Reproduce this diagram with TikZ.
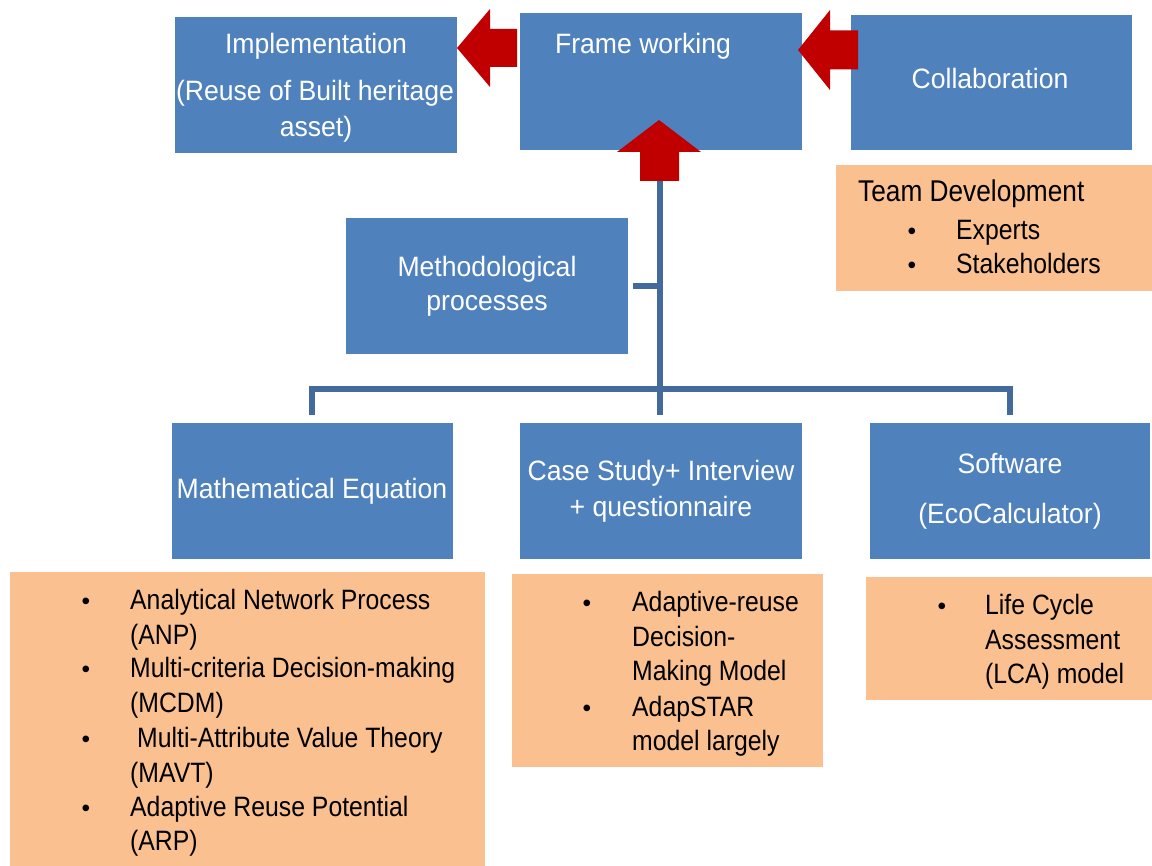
\documentclass[tikz,border=0pt]{standalone}
\usepackage{fontspec}
\setmainfont{Liberation Sans}
\newfontfamily\bluefont[FakeStretch=0.95]{Liberation Sans}
\newfontfamily\orangefont[FakeStretch=0.885]{Liberation Sans}
\newfontfamily\teamfont[FakeStretch=0.875]{Liberation Sans}
\usetikzlibrary{calc}
\definecolor{boxblue}{RGB}{79,129,189}
\definecolor{boxorange}{RGB}{250,192,144}
\definecolor{arrowred}{RGB}{192,0,0}
\definecolor{linkblue}{RGB}{66,106,156}
\tikzset{
  bluebox/.style={fill=boxblue, draw=none, inner sep=0pt, outer sep=0pt},
  orangebox/.style={fill=boxorange, draw=none, inner sep=0pt, outer sep=0pt},
  wtext/.style={text=white, font=\bluefont\fontsize{28}{30}\selectfont, inner sep=0pt, anchor=mid},
  btext/.style={text=black, font=\orangefont\fontsize{28}{30}\selectfont, inner sep=0pt, anchor=mid west},
  bul/.style={text=black, font=\fontsize{24.5}{28}\selectfont, inner sep=0pt, anchor=mid},
  link/.style={draw=linkblue, line width=6pt},
  bigarrow/.style={fill=arrowred, draw=none}
}
\begin{document}
\begin{tikzpicture}[x=1pt,y=-1pt]
\useasboundingbox (0,0) rectangle (1152,866);
% blue boxes
\node[bluebox, minimum width=282pt, minimum height=136pt] (impl) at (316,85) {};
\node[bluebox, minimum width=282pt, minimum height=137pt] (fw) at (661,81.5) {};
\node[bluebox, minimum width=281pt, minimum height=135pt] (coll) at (991.5,82.5) {};
\node[bluebox, minimum width=282pt, minimum height=136pt] (meth) at (487,286) {};
\node[bluebox, minimum width=281pt, minimum height=136pt] (math) at (312.5,491) {};
\node[bluebox, minimum width=282pt, minimum height=136pt] (case) at (661,491) {};
\node[bluebox, minimum width=280pt, minimum height=136pt] (soft) at (1010,491) {};
% orange boxes
\node[orangebox, minimum width=316pt, minimum height=126pt] (team) at (994,228) {};
\node[orangebox, minimum width=475pt, minimum height=294pt] (o1) at (247.5,719) {};
\node[orangebox, minimum width=311pt, minimum height=193pt] (o2) at (667.5,670.5) {};
\node[orangebox, minimum width=286pt, minimum height=123pt] (o3) at (1009,638.5) {};

% texts in blue boxes
\node[wtext] (t1) at (316,51) {Implementation};
\node[wtext] (t2) at (315,98) {(Reuse of Built heritage};
\node[wtext] (t3) at (316,134) {asset)};
\node[wtext] (t4) at (643,51) {Frame working};
\node[wtext] (t5) at (990,86) {Collaboration};
\node[wtext] (t6) at (487,274) {Methodological};
\node[wtext] (t7) at (487,308) {processes};
\node[wtext] (t8) at (312,496) {Mathematical Equation};
\node[wtext] (t9) at (661,478) {Case Study+ Interview};
\node[wtext] (t10) at (661,514) {+ questionnaire};
\node[wtext] (t11) at (1010,471) {Software};
\node[wtext] (t12) at (1010,521) {(EcoCalculator)};

% team development
\node[btext, font=\teamfont\fontsize{30}{32}\selectfont] (u1) at (858,199) {Team Development};
\node[bul] (b1) at (912,237) {•};
\node[btext] (u2) at (956,237) {Experts};
\node[bul] (b2) at (912,271) {•};
\node[btext] (u3) at (956,271) {Stakeholders};

% orange 1
\node[bul] (c1) at (86,607) {•};
\node[btext] (v1) at (130,607) {Analytical Network Process};
\node[btext] (v2) at (130,642) {(ANP)};
\node[bul] (c2) at (86,675) {•};
\node[btext] (v3) at (130,675) {Multi-criteria Decision-making};
\node[btext] (v4) at (130,710) {(MCDM)};
\node[bul] (c3) at (86,745) {•};
\node[btext] (v5) at (137,745) {Multi-Attribute Value Theory};
\node[btext] (v6) at (130,780) {(MAVT)};
\node[bul] (c4) at (86,814) {•};
\node[btext] (v7) at (130,814) {Adaptive Reuse Potential};
\node[btext] (v8) at (130,848) {(ARP)};

% orange 2
\node[bul] (d1) at (587,609) {•};
\node[btext] (w1) at (632,609) {Adaptive-reuse};
\node[btext] (w2) at (632,644) {Decision-};
\node[btext] (w3) at (632,678) {Making Model};
\node[bul] (d2) at (587,714) {•};
\node[btext] (w4) at (632,714) {AdapSTAR};
\node[btext] (w5) at (632,748) {model largely};

% orange 3
\node[bul] (e1) at (942,612) {•};
\node[btext] (x1) at (985,612) {Life Cycle};
\node[btext] (x2) at (985,647) {Assessment};
\node[btext] (x3) at (985,681) {(LCA) model};

% connector lines
\coordinate (top) at (660,180);
\coordinate (stub) at (633,286);
\coordinate (jm) at (660,286);
\coordinate (j) at (660,389);
\coordinate (jl) at (312,389);
\coordinate (jr) at (1010,389);
\coordinate (dl) at (312,415);
\coordinate (dc) at (660,415);
\coordinate (dr) at (1010,415);
\draw[link] (top) -- (dc);
\draw[link] (stub) -- (jm);
\draw[link] (dl) -- (jl) -- (jr) -- (dr);

% red block arrows
\fill[bigarrow] (457,48) -- (490,9) -- (490,29) -- (517,29) -- (517,67) -- (490,67) -- (490,87) -- cycle;
\fill[bigarrow] (798,50) -- (830,10) -- (830,30.5) -- (858,30.5) -- (858,69.5) -- (830,69.5) -- (830,90) -- cycle;
\fill[bigarrow] (659,120) -- (701,152) -- (679,152) -- (679,181) -- (640,181) -- (640,152) -- (617,152) -- cycle;
\end{tikzpicture}
\end{document}
